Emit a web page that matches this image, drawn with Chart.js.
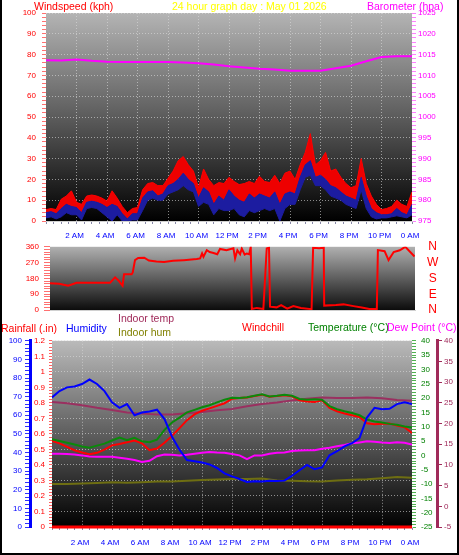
<!DOCTYPE html>
<html>
<head>
<meta charset="utf-8">
<title>24 hour graph</title>
<script src="https://cdn.jsdelivr.net/npm/chart.js@4/dist/chart.umd.min.js"></script>
<style>
  body { margin: 0; background: #fff; }
  #page { position: relative; width: 459px; height: 555px; overflow: hidden; background: #fff;
          font-family: "Liberation Sans", Arial, sans-serif; }
  #page canvas { position: absolute; left: 0; }
  .lbl { position: absolute; font-size: 10.5px; line-height: 1; white-space: nowrap; z-index: 2; }
  #frame { position: absolute; left: 0; top: 0; width: 459px; height: 555px; box-sizing: border-box;
           border: 2px solid #000; border-top: none; pointer-events: none; z-index: 3; }
</style>
</head>
<body>
<div id="page">
  <canvas id="windChart" width="459" height="240" style="top:0"></canvas>
  <canvas id="dirChart" width="459" height="83" style="top:237px"></canvas>
  <canvas id="tempChart" width="459" height="224" style="top:331px"></canvas>

  <div class="lbl" style="left:34px;top:1px;color:#ff0000">Windspeed (kph)</div>
  <div class="lbl" style="left:172px;top:1px;color:#ffff00">24 hour graph day : May 01 2026</div>
  <div class="lbl" style="left:367px;top:1px;color:#ff00ff">Barometer (hpa)</div>

  <div class="lbl" style="left:1px;top:323px;color:#ff0000">Rainfall (.in)</div>
  <div class="lbl" style="left:66px;top:323px;color:#0000ff">Humidity</div>
  <div class="lbl" style="left:118px;top:313px;color:#a02a5a">Indoor temp</div>
  <div class="lbl" style="left:118px;top:327px;color:#808000">Indoor hum</div>
  <div class="lbl" style="left:242px;top:322px;color:#ff0000">Windchill</div>
  <div class="lbl" style="left:308px;top:322px;color:#008000">Temperature (°C)</div>
  <div class="lbl" style="left:387px;top:322px;color:#ff00ff">Dew Point (°C)</div>
  <div id="frame"></div>
</div>

<script>
// x axis labels, one per 2 hours (index = hour / 2)
const hourLabels = ['', '2 AM', '4 AM', '6 AM', '8 AM', '10 AM', '12 PM', '2 PM', '4 PM', '6 PM', '8 PM', '10 PM', '0 AM'];

// wind, one reading every 20 minutes (kph)
const windStep = 1 / 3;
const windGust = [5.5, 6, 5.5, 10.5, 12, 14.5, 9, 8, 12, 12.5,
  12, 11, 9.5, 14.5, 11, 7, 4, 6, 6.5, 15,
  18, 18.5, 17, 17, 20.5, 24, 29, 31, 27, 24,
  16, 25, 20, 17, 18.5, 18, 21, 19, 17.5, 18,
  19, 18, 21.5, 19, 18.5, 22, 18, 23, 24, 20,
  27, 33, 42, 27, 29, 33, 24, 25, 21, 18,
  16, 17, 30, 18, 12, 8, 5.5, 6, 7, 10,
  8, 7, 14];
const windAvg = [4, 4.5, 3.5, 6, 8, 7, 6.5, 4, 9, 9.5,
  9, 8, 6.5, 8, 7, 3.5, 1, 3.5, 3.5, 11,
  14, 14.5, 12, 13, 17, 18, 20, 23, 20, 18,
  11, 16, 14, 8, 12, 10, 15, 12, 10, 9,
  13, 11, 13, 12, 11, 14, 8, 13, 14, 13,
  21, 27, 29, 21, 22, 20, 17, 16, 14, 12,
  11, 10, 21, 12, 6, 4, 3, 3, 3.5, 6,
  4, 3, 8];
const windAvgLow = [1.5, 2, 1, 2, 4, 3, 3, 0.5, 6, 6.5,
  6, 4, 2, 0, 3, 0, 0, 0.5, 0.5, 5,
  10, 11, 10, 10, 13, 14, 15, 17, 15, 14,
  7, 9, 8, 3, 6, 5, 5, 6, 3, 2,
  5, 4, 5, 6, 5, 6, 0, 6, 8, 8,
  15, 21, 22, 17, 17, 15, 12, 11, 10, 8,
  7, 6, 15, 6, 2, 1, 1.5, 1.5, 2, 2.5,
  2, 1.5, 3];

// barometer, hourly (hpa)
const barometer = [1013.65, 1013.6, 1013.8, 1013.5, 1013.3, 1013.2, 1013.2, 1013.2, 1013.2, 1013.1,
  1012.9, 1012.6, 1012.2, 1011.9, 1011.6, 1011.4, 1011.1, 1011.1, 1011.1, 1011.7,
  1012.3, 1013.4, 1014.4, 1014.6, 1014.6];

// wind direction (degrees) at the given hours
const dirHours = [0, 0.6, 1.2, 1.75, 2.5, 3.95, 4.28, 4.5, 4.77, 4.87, 5.37, 5.44, 5.59, 5.8, 6.2, 6.5, 7.0, 7.5,
  8.1, 8.8, 9.65, 9.87, 10.0, 10.09, 10.31, 10.5, 10.75, 11.0, 11.18, 11.6, 12.06, 12.17, 12.32, 12.5,
  12.61, 12.8, 12.94, 13.1, 13.2, 13.27, 13.6, 14.03, 14.25, 14.4, 14.47, 14.9, 15.2, 15.6, 16.0, 16.5,
  17.2, 17.3, 17.7, 18.0, 18.03, 18.8, 19.3, 19.96, 20.5, 21.0, 21.49, 21.56, 22.0, 22.26, 22.6, 23.0,
  23.36, 23.97];
const dirDegrees = [152, 150, 138, 155, 155, 155, 186, 168, 138, 203, 203, 214, 284, 296, 298, 282, 276, 274,
  280, 284, 290, 294, 322, 303, 341, 330, 325, 318, 348, 341, 352, 294, 340, 318,
  350, 315, 322, 318, 360, 6, 12, 6, 350, 355, 19, 15, 28, 8, 23, 12,
  5, 354, 352, 355, 25, 28, 32, 22, 14, 6, 5, 341, 335, 284, 330, 340,
  360, 305];
const compass = ['N', 'E', 'S', 'W', 'N'];

// outdoor readings every 30 minutes
const halfStep = 0.5;
const humidity = [69.6, 73, 75, 75.5, 76.8, 79.2, 76.8, 73, 67, 64, 66, 60, 61.5, 62, 63, 58, 48.5,
  41.5, 36, 35.3, 34.6, 33.6, 31.7, 28.8, 27.2, 25.8, 24.2, 24.6, 24.5, 24.9, 24.7, 24.9, 27.5,
  30.5, 33.3, 31, 32, 38.5, 40.7, 43.3, 45, 47.8, 58.8, 64, 63.2, 63.5, 66, 67, 66];
const temperature = [5.6, 5.0, 4.4, 3.8, 3.1, 2.7, 3.4, 4.1, 5.2, 6.2, 5.3, 6.1, 4.9, 4.6, 5.5, 8.9, 11.5,
  13.2, 15.0, 15.9, 16.8, 17.5, 18.5, 19.4, 20.1, 20.0, 20.3, 20.8, 21.3, 20.6, 20.8, 21.2, 20.8,
  19.7, 19.4, 19.6, 19.4, 17.2, 16.1, 15.4, 14.8, 14.0, 12.5, 11.8, 11.5, 11.0, 10.7, 10.1, 9.7];
const windchill = [5.0, 4.2, 3.0, 1.8, 1.0, 0.4, 0.9, 2.0, 3.5, 4.0, 4.6, 5.2, 4.2, 1.8, 2.4, 4.4, 6.8,
  9.5, 12.3, 14.3, 15.6, 16.4, 17.3, 18.2, 19.8, 20.0, 20.2, 20.7, 21.2, 20.5, 20.7, 21.0, 20.6,
  19.2, 18.8, 18.6, 19.2, 16.6, 15.4, 14.6, 14.0, 13.4, 11.2, 10.9, 11.0, 11.1, 10.4, 9.8, 7.8];
const dewPoint = [0.6, 0.6, 0.5, 0.3, 0.0, -0.4, -0.5, -0.5, -0.5, -0.8, -1.2, -1.6, -2.3, -1.9, -0.3, 0.3, 0.2,
  0.0, 0.2, 0.6, 0.9, 1.2, 1.0, 0.9, 0.5, 0.0, -1.3, 0.0, 0.0, 0.6, 0.9, 1.0, 1.5,
  1.7, 1.8, 1.8, 2.3, 2.7, 3.2, 3.6, 4.2, 4.5, 4.9, 4.8, 4.5, 4.3, 4.6, 4.4, 3.8];

// indoor readings, hourly
const indoorTemp = [25.2, 24.9, 24.4, 23.8, 23.3, 22.7, 22.4, 22.2, 22.2, 22.5, 22.8, 23.2, 23.5,
  24.2, 24.7, 25.1, 25.6, 26.0, 26.3, 26.2, 26.2, 26.3, 26.1, 25.7, 25.5];
const indoorHum = [23.1, 23.1, 23.3, 23.6, 24.0, 23.7, 24.0, 24.4, 24.5, 24.9, 25.2, 25.5, 25.8,
  25.8, 26.0, 25.0, 24.9, 24.6, 24.5, 25.0, 25.4, 25.6, 26.2, 26.8, 26.5];

// rainfall (in), start and end of day
const rainHours = [0, 24];
const rainfall = [0, 0];

Chart.defaults.font.family = '"Liberation Sans", Arial, sans-serif';
Chart.defaults.font.size = 8;

const gridColor = 'rgba(220,220,220,0.6)';
const every = step => v => Math.abs(v / step - Math.round(v / step)) < 1e-6;
const pts = (arr, step) => arr.map((v, i) => ({ x: i * step, y: v }));
const xy = (xs, ys) => xs.map((x, i) => ({ x: x, y: ys[i] }));

// gradient backdrop for each plot panel
const panelBg = {
  id: 'panelBg',
  beforeDraw(chart, args, opts) {
    const { ctx, chartArea: a } = chart;
    const g = ctx.createLinearGradient(0, a.top, 0, a.bottom);
    g.addColorStop(0, opts.top);
    g.addColorStop(0.5, opts.mid);
    g.addColorStop(1, opts.bottom);
    ctx.save();
    ctx.fillStyle = g;
    ctx.fillRect(a.left, a.top, a.right - a.left, a.bottom - a.top);
    ctx.restore();
  }
};

function hourAxis(height, padding, showLabels) {
  return {
    type: 'linear', min: 0, max: 24,
    ticks: {
      stepSize: 0.5, autoSkip: false, maxTicksLimit: 500, maxRotation: 0, display: showLabels,
      color: '#0000ff', padding: padding, labelOffset: -2,
      callback: v => (v > 0 && every(2)(v)) ? hourLabels[Math.round(v / 2)] : ''
    },
    grid: {
      display: showLabels,
      color: c => (c.tick && c.tick.value > 0 && c.tick.value < 24 && every(2)(c.tick.value)) ? gridColor : 'transparent',
      tickColor: '#8888a8', tickLength: 3
    },
    border: { color: '#d0d0d0', dash: [1, 2] },
    afterFit: s => { s.height = height; }
  };
}

function valueAxis(o) {
  return {
    position: o.position, weight: o.weight || 0, min: o.min, max: o.max,
    ticks: {
      stepSize: o.step, autoSkip: false, maxTicksLimit: 500, color: o.color, padding: o.padding,
      font: o.font, crossAlign: o.crossAlign || 'near',
      callback: o.label || (v => every(o.major)(v) ? v : '')
    },
    grid: {
      drawOnChartArea: !!o.onChart,
      drawTicks: o.tickLength > 0,
      color: c => (c.tick && every(o.major)(c.tick.value)) ? gridColor : 'transparent',
      tickColor: o.tickColor, tickLength: o.tickLength
    },
    border: o.borderWidth ? { color: o.color, width: o.borderWidth, dash: [1, 2] } : { display: false, dash: [1, 2] },
    afterFit: s => { s.width = o.width; }
  };
}

const common = {
  responsive: false, animation: false, events: [],
  plugins: { legend: { display: false }, tooltip: { enabled: false } },
  elements: { point: { radius: 0 }, line: { tension: 0 } }
};

new Chart(document.getElementById('windChart'), {
  type: 'line',
  plugins: [panelBg],
  data: {
    datasets: [
      { label: 'Barometer', data: pts(barometer, 1), yAxisID: 'baro', borderColor: '#ff00ff', borderWidth: 2 },
      { label: 'Average', data: pts(windAvg, windStep), yAxisID: 'wind', borderColor: '#1c1ca8', borderWidth: 1,
        fill: { target: 2, above: '#1c1ca0', below: '#1c1ca0' } },
      { label: 'Average low', data: pts(windAvgLow, windStep), yAxisID: 'wind', borderColor: '#1c1ca0', borderWidth: 1, fill: false },
      { label: 'Gust', data: pts(windGust, windStep), yAxisID: 'wind', borderColor: '#ff0000', borderWidth: 1,
        fill: { target: 1, above: '#ee0000', below: '#ee0000' } }
    ]
  },
  options: Object.assign({}, common, {
    layout: { padding: { top: 13, left: 0, right: 0, bottom: 0 } },
    plugins: Object.assign({}, common.plugins, { panelBg: { top: '#b4b4b4', mid: '#5c5c5c', bottom: '#000000' } }),
    scales: {
      x: hourAxis(19, 7, true),
      wind: valueAxis({ position: 'left', min: 0, max: 100, step: 2, major: 10, color: '#ff0000', padding: 6,
        tickColor: '#ff7070', tickLength: 4, width: 46, onChart: true }),
      baro: valueAxis({ position: 'right', min: 975, max: 1025, step: 1, major: 5, color: '#ff00ff', padding: 2,
        tickColor: '#ff80ff', tickLength: 4, width: 47 })
    }
  })
});

new Chart(document.getElementById('dirChart'), {
  type: 'line',
  plugins: [panelBg],
  data: {
    datasets: [
      { label: 'Wind direction', data: xy(dirHours, dirDegrees), yAxisID: 'dir', borderColor: '#ff0000', borderWidth: 2 }
    ]
  },
  options: Object.assign({}, common, {
    layout: { padding: { top: 0, left: 0, right: 0, bottom: 0 } },
    plugins: Object.assign({}, common.plugins, { panelBg: { top: '#b0b0b0', mid: '#5e5e5e', bottom: '#0c0c0c' } }),
    scales: {
      x: hourAxis(10, 0, false),
      dir: valueAxis({ position: 'left', min: 0, max: 360, step: 15, major: 90, color: '#ff0000', padding: 5,
        tickColor: '#ff7070', tickLength: 6, width: 50 }),
      compass: valueAxis({ position: 'right', min: 0, max: 360, step: 90, major: 90, color: '#ff0000', padding: 0,
        font: { size: 12 }, crossAlign: 'center', tickColor: 'transparent', tickLength: 12, width: 44,
        label: v => compass[Math.round(v / 90)] })
    }
  })
});

new Chart(document.getElementById('tempChart'), {
  type: 'line',
  plugins: [panelBg],
  data: {
    datasets: [
      { label: 'Rainfall', data: xy(rainHours, rainfall), yAxisID: 'rain', borderColor: '#ff0000', borderWidth: 3, clip: 4 },
      { label: 'Humidity', data: pts(humidity, halfStep), yAxisID: 'hum', borderColor: '#0000ff', borderWidth: 2 },
      { label: 'Temperature', data: pts(temperature, halfStep), yAxisID: 'temp', borderColor: '#0a8a0a', borderWidth: 2 },
      { label: 'Windchill', data: pts(windchill, halfStep), yAxisID: 'temp', borderColor: '#ff0000', borderWidth: 2 },
      { label: 'Dew Point', data: pts(dewPoint, halfStep), yAxisID: 'temp', borderColor: '#ff00ff', borderWidth: 2 },
      { label: 'Indoor temp', data: pts(indoorTemp, 1), yAxisID: 'intemp', borderColor: '#9a3060', borderWidth: 2 },
      { label: 'Indoor hum', data: pts(indoorHum, 1), yAxisID: 'hum', borderColor: '#6e6e12', borderWidth: 2 }
    ]
  },
  options: Object.assign({}, common, {
    layout: { padding: { top: 0, left: 0, right: 0, bottom: 0 } },
    plugins: Object.assign({}, common.plugins, { panelBg: { top: '#bababa', mid: '#5e5e5e', bottom: '#000000' } }),
    scales: {
      x: hourAxis(28, 8, true),
      rain: valueAxis({ position: 'left', weight: 0, min: 0, max: 1.2, step: 0.02, major: 0.1, color: '#ff0000', padding: 4,
        tickColor: '#ff6060', tickLength: 3, width: 22, onChart: true,
        label: v => every(0.1)(v) ? String(Math.round(v * 10) / 10) : '' }),
      hum: valueAxis({ position: 'left', weight: 1, min: 0, max: 100, step: 2, major: 10, color: '#0000ff', padding: 3,
        tickColor: '#3030ff', tickLength: 5, width: 30, borderWidth: 3 }),
      temp: valueAxis({ position: 'right', weight: 0, min: -25, max: 40, step: 1, major: 5, color: '#008000', padding: 5,
        tickColor: '#50b050', tickLength: 4, width: 25 }),
      intemp: valueAxis({ position: 'right', weight: 1, min: -5, max: 40, step: 5, major: 5, color: '#a02a5a', padding: 2,
        tickColor: '#a02a5a', tickLength: 5, width: 22, borderWidth: 3 })
    }
  })
});
</script>
</body>
</html>
